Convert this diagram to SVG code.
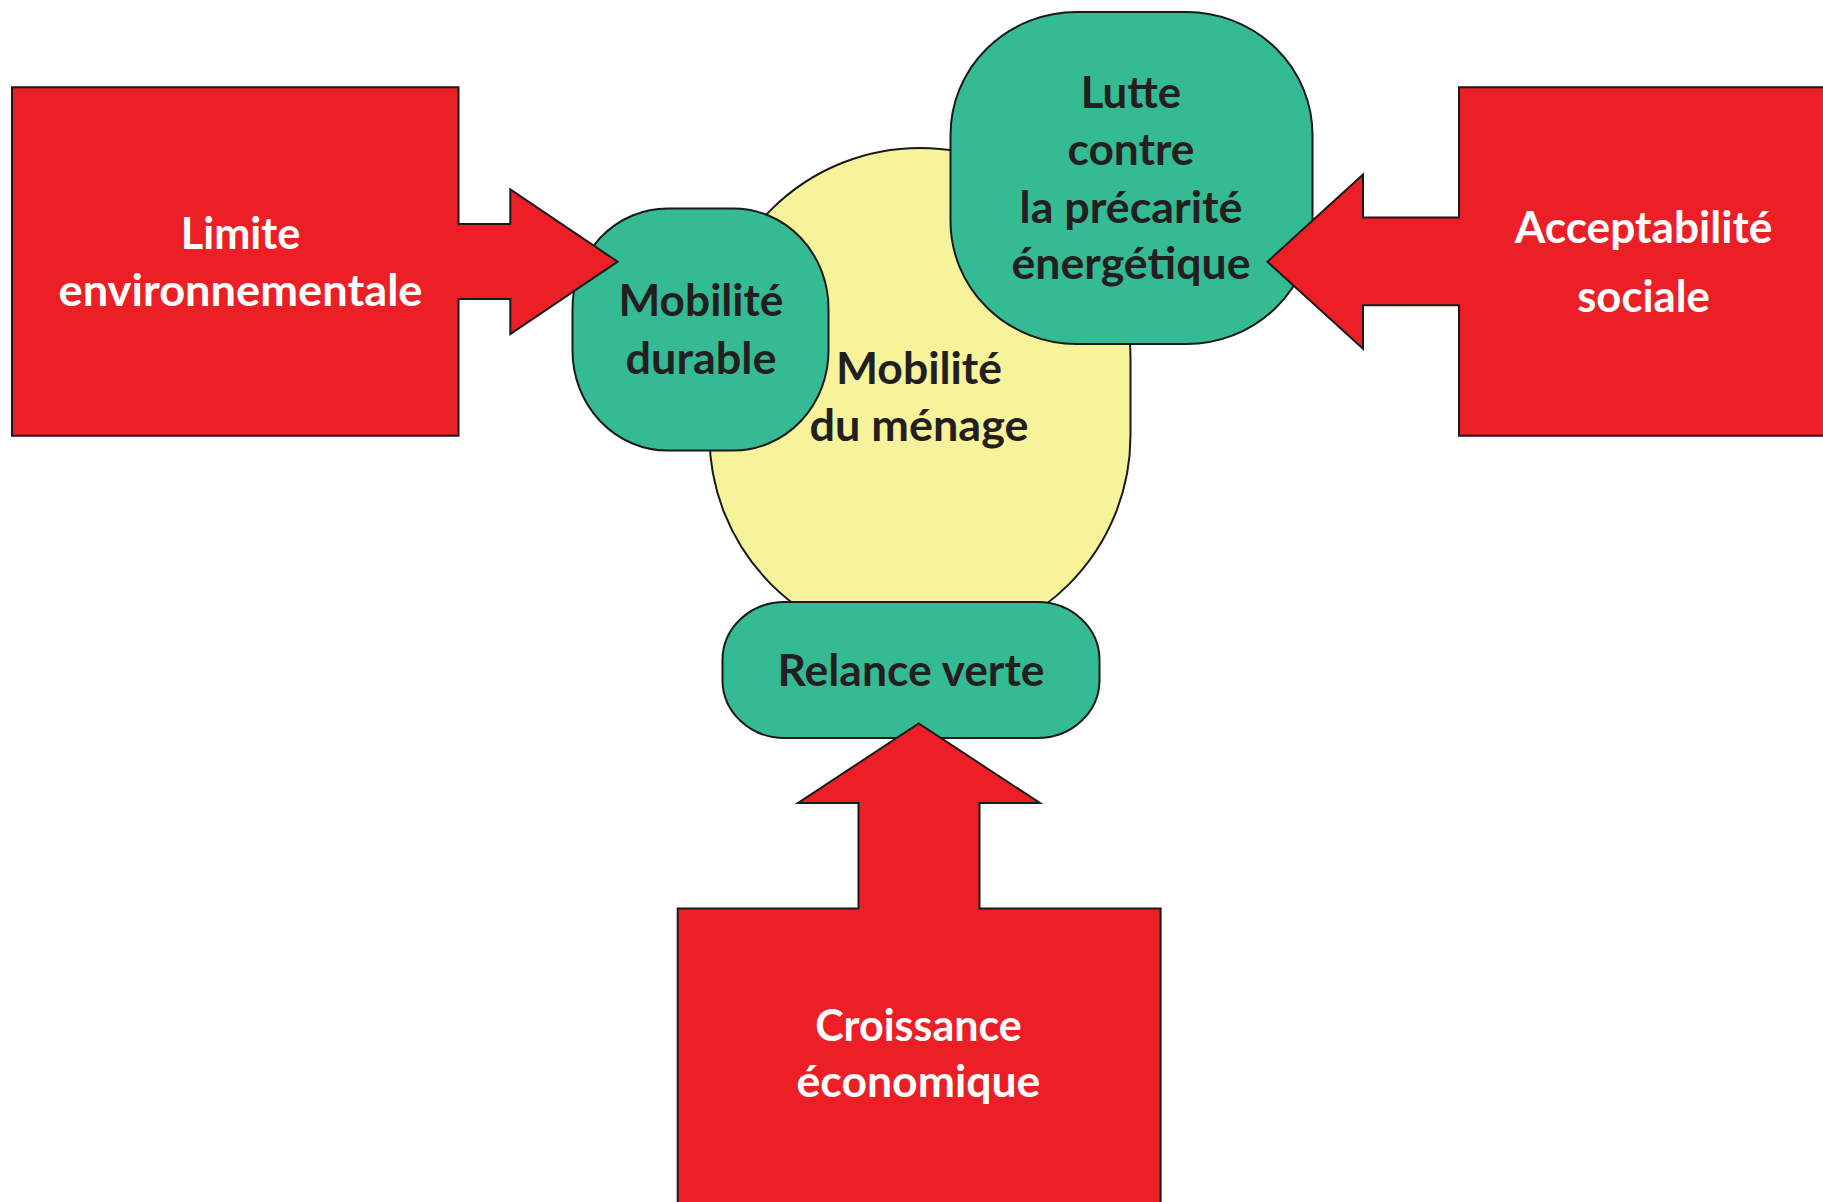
<svg xmlns="http://www.w3.org/2000/svg" width="1823" height="1202" viewBox="0 0 1823 1202">
<style>
.red{fill:#ED1F26;stroke:#1a1a1a;stroke-width:2;stroke-linejoin:miter}
.green{fill:#35BB93;stroke:#1a1a1a;stroke-width:2}
.yellow{fill:#F7F39A;stroke:#1a1a1a;stroke-width:2}
text{font-family:Lato,"Open Sans","Liberation Sans",sans-serif;font-weight:700;font-size:43px;text-anchor:middle}
.w{fill:#ffffff}
.d{fill:#231F20}
</style>
<rect width="1823" height="1202" fill="#ffffff"/>
<g id="connectors"></g>
<g id="node-menage">
<rect class="yellow" x="709.5" y="148" width="421" height="498" rx="210.5" ry="210.5"/>
<text class="d" x="919" y="384" textLength="166" lengthAdjust="spacingAndGlyphs">Mobilité</text>
<text class="d" x="919" y="440.7" textLength="219" lengthAdjust="spacingAndGlyphs">du ménage</text>
</g>
<g id="node-relance">
<rect class="green" x="722.5" y="602" width="377" height="136" rx="62" ry="58"/>
<text class="d" x="911" y="686.3" textLength="267" lengthAdjust="spacingAndGlyphs">Relance verte</text>
</g>
<g id="node-durable">
<rect class="green" x="572.5" y="208.5" width="256" height="242" rx="95" ry="100"/>
<text class="d" x="701" y="316" textLength="165" lengthAdjust="spacingAndGlyphs">Mobilité</text>
<text class="d" x="701" y="373.5" textLength="151" lengthAdjust="spacingAndGlyphs">durable</text>
</g>
<g id="node-lutte">
<rect class="green" x="950.5" y="12" width="362" height="332" rx="126" ry="123"/>
<text class="d" x="1131" y="107.5" textLength="100.5" lengthAdjust="spacingAndGlyphs">Lutte</text>
<text class="d" x="1131" y="164.8" textLength="127" lengthAdjust="spacingAndGlyphs">contre</text>
<text class="d" x="1131" y="223" textLength="223" lengthAdjust="spacingAndGlyphs">la précarité</text>
<text class="d" x="1131" y="279.4" textLength="239" lengthAdjust="spacingAndGlyphs">énergétique</text>
</g>
<g id="node-limite">
<polygon class="red" points="12,87.3 458.5,87.3 458.5,224 510.3,224 510.3,189.4 617.6,261.7 510.3,334 510.3,299 458.5,299 458.5,435.8 12,435.8"/>
<text class="w" x="240.5" y="249" textLength="119.5" lengthAdjust="spacingAndGlyphs">Limite</text>
<text class="w" x="240.5" y="306" textLength="364" lengthAdjust="spacingAndGlyphs">environnementale</text>
</g>
<g id="node-acceptabilite">
<polygon class="red" points="1459,87.3 1830,87.3 1830,435.8 1459,435.8 1459,305.2 1363,305.2 1363,348.7 1267.4,261.7 1363,174.4 1363,217.6 1459,217.6"/>
<text class="w" x="1643.5" y="242.7" textLength="257.7" lengthAdjust="spacingAndGlyphs">Acceptabilité</text>
<text class="w" x="1643.5" y="311.7" textLength="132.7" lengthAdjust="spacingAndGlyphs">sociale</text>
</g>
<g id="node-croissance">
<polygon class="red" points="677.7,1212 677.7,908.5 858.5,908.5 858.5,803 798,803 918.7,723.5 1040,803 979.5,803 979.5,908.5 1160.6,908.5 1160.6,1212"/>
<text class="w" x="918.5" y="1041" textLength="206.6" lengthAdjust="spacingAndGlyphs">Croissance</text>
<text class="w" x="918.5" y="1096.7" textLength="243.8" lengthAdjust="spacingAndGlyphs">économique</text>
</g>
</svg>
